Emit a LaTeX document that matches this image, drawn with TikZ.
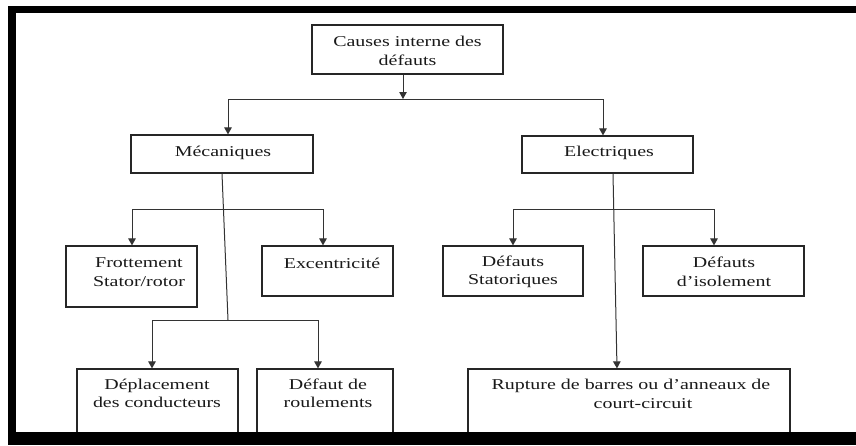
\documentclass[tikz,border=0pt]{standalone}
\usepackage{fontspec}
\setmainfont{Liberation Serif}[FakeStretch=1.33]
\usetikzlibrary{arrows.meta}
\begin{document}
\begin{tikzpicture}[x=1pt,y=-1pt,
  box/.style={draw=black!85, line width=1.2pt, fill=white, inner sep=0pt},
  txt/.style={font=\fontsize{15}{18.5}\selectfont, align=center, inner sep=0pt, text=black!90},
  link/.style={draw=black!80, line width=1pt},
  arr/.style={link, -{Triangle[length=7pt,width=7.5pt]}}]

% page
\fill[white] (0,0) rectangle (856,445);
\useasboundingbox (0,0) rectangle (856,445);

% boxes
\node[box, minimum width=191pt, minimum height=49pt] (top)  at (407.5,49.5) {};
\node[box, minimum width=182pt, minimum height=38pt] (mec)  at (222,154) {};
\node[box, minimum width=171pt, minimum height=37pt] (elec) at (607.5,154.5) {};
\node[box, minimum width=131pt, minimum height=61pt] (frot) at (131.5,276.5) {};
\node[box, minimum width=131pt, minimum height=50pt] (exc)  at (327.5,271) {};
\node[box, minimum width=140pt, minimum height=50pt] (stat) at (513,271) {};
\node[box, minimum width=161pt, minimum height=50pt] (iso)  at (723.5,271) {};
\node[box, minimum width=161pt, minimum height=67pt] (depl) at (157.5,402.5) {};
\node[box, minimum width=136pt, minimum height=67pt] (roul) at (325,402.5) {};
\node[box, minimum width=322pt, minimum height=67pt] (rupt) at (629,402.5) {};

% labels
\node[txt] (topT)  at (407.5,51) {Causes interne des\\défauts};
\node[txt] (mecT)  at (223,152.5) {Mécaniques};
\node[txt] (elecT) at (609,153) {Electriques};
\node[txt] (frotT) at (139,272) {Frottement\\Stator/rotor};
\node[txt] (excT)  at (332,263) {Excentricité};
\node[txt] (statT) at (513,272) {Défauts\\Statoriques};
\node[txt] (isoT)  at (724,272) {Défauts\\d’isolement};
\node[txt] (deplT) at (157,393.5) {Déplacement\\des conducteurs};
\node[txt] (roulT) at (328,393.5) {Défaut de\\roulements};
\node[txt] (ruptT) at (631,394) {Rupture de barres ou d’anneaux de\\\hspace*{24pt}court-circuit};

% first level
\coordinate (h0)  at (403,99);
\coordinate (h0L) at (228,99);
\coordinate (h0R) at (603,99);
\draw[arr] (top.south -| h0) -- (h0);
\draw[link] (h0L) -- (h0R);
\draw[arr] (h0L) -- (h0L |- mec.north);
\draw[arr] (h0R) -- (h0R |- elec.north);

% mechanical branch
\coordinate (m1)  at (228,320);
\coordinate (m0L) at (132,209);
\coordinate (m0R) at (323,209);
\coordinate (m1L) at (152,320);
\coordinate (m1R) at (318,320);
\draw[link] (mec.south) -- (m1);
\draw[link] (m0L) -- (m0R);
\draw[arr] (m0L) -- (m0L |- frot.north);
\draw[arr] (m0R) -- (m0R |- exc.north);
\draw[link] (m1L) -- (m1R);
\draw[arr] (m1L) -- (m1L |- depl.north);
\draw[arr] (m1R) -- (m1R |- roul.north);

% electrical branch
\coordinate (e0L) at (513,209);
\coordinate (e0R) at (714,209);
\draw[arr] ([xshift=5.5pt]elec.south) -- ([xshift=-12pt]rupt.north);
\draw[link] (e0L) -- (e0R);
\draw[arr] (e0L) -- (e0L |- stat.north);
\draw[arr] (e0R) -- (e0R |- iso.north);

% outer frame
\fill[black] (8,6) rectangle (856,13);
\fill[black] (8,6) rectangle (16,445);
\fill[black] (8,432) rectangle (856,445);
\end{tikzpicture}
\end{document}
